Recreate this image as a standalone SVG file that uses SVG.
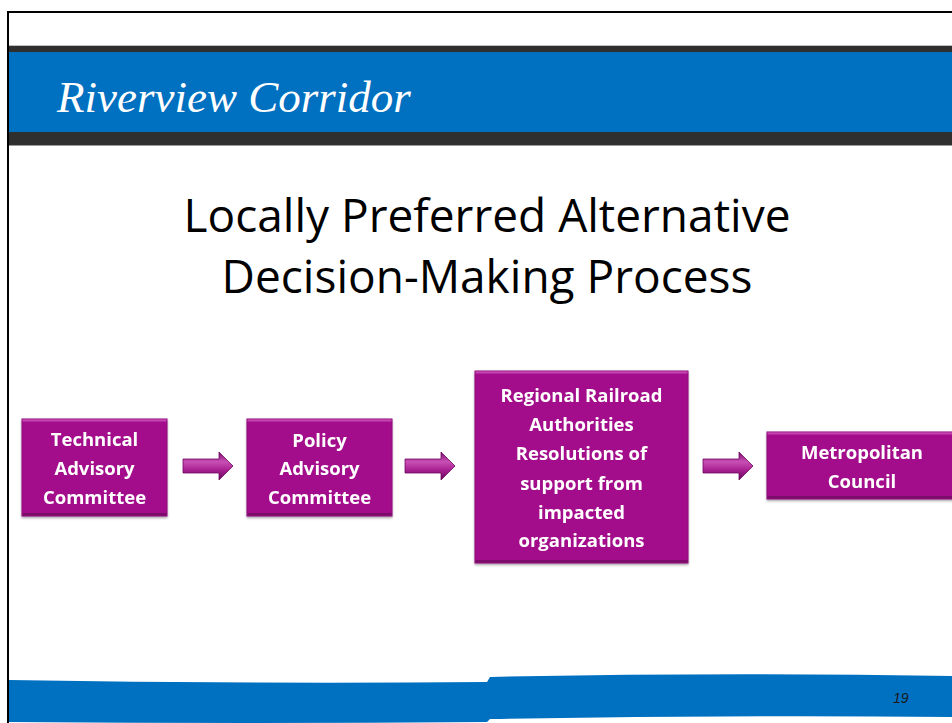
<svg xmlns="http://www.w3.org/2000/svg" width="952" height="723" viewBox="0 0 952 723">
<defs>
<linearGradient id="boxTop" x1="0" y1="0" x2="0" y2="1">
<stop offset="0" stop-color="#D45BC2"/>
<stop offset="1" stop-color="#A3108B"/>
</linearGradient>
<linearGradient id="arrowGrad" x1="0" y1="0" x2="0" y2="1">
<stop offset="0" stop-color="#7E0A6C"/>
<stop offset="0.35" stop-color="#C850B5"/>
<stop offset="0.65" stop-color="#A82090"/>
<stop offset="1" stop-color="#650757"/>
</linearGradient>
<filter id="sh" x="-5%" y="-5%" width="110%" height="115%">
<feDropShadow dx="0" dy="1.5" stdDeviation="1" flood-color="#000" flood-opacity="0.35"/>
</filter>
<path id="arr" d="M0,7 L36,7 L36,0 L50,14 L36,28 L36,21 L0,21 Z"/>
</defs>
<style>
.box{fill:#A3108B;stroke:#8C0C78;stroke-width:1}
.hl{fill:url(#boxTop)}
.dk{fill:#7A0A68}
.lbl{font-family:"Open Sans","Noto Sans","Liberation Sans",sans-serif;font-weight:bold;font-size:18.5px;fill:#ffffff;text-anchor:middle}
.title{font-family:"Open Sans","Noto Sans","Liberation Sans",sans-serif;font-size:46px;fill:#000000;text-anchor:middle}
.arrow{fill:url(#arrowGrad);stroke:#6E0860;stroke-width:0.8}
</style>
<rect x="0" y="0" width="952" height="723" fill="#ffffff"/>
<!-- header -->
<rect x="9" y="45" width="943" height="1" fill="#BFBFBF"/>
<rect x="9" y="46" width="943" height="6" fill="#2F2F2F"/>
<rect x="9" y="52" width="943" height="80" fill="#0070C0"/>
<rect x="9" y="132" width="943" height="13" fill="#2F2F2F"/>
<rect x="9" y="145" width="943" height="1" fill="#9A9A9A"/>
<text x="57" y="112" font-family="'Liberation Serif','DejaVu Serif',serif" font-style="italic" font-size="45" fill="#ffffff">Riverview Corridor</text>
<!-- footer -->
<path d="M9,680 Q250,684 487,682 L490,677 Q720,672 952,676 L952,717 Q720,715 490,719 L487,722 Q250,724 9,722 Z" fill="#0070C0"/>
<text x="893" y="703" font-family="'Liberation Sans',Arial,sans-serif" font-style="italic" font-size="14" fill="#1a1a1a">19</text>
<!-- frame -->
<path d="M8,723 L8,12 L952,12" fill="none" stroke="#000000" stroke-width="2"/>
<!-- title -->
<text class="title" x="487" y="232">Locally Preferred Alternative</text>
<text class="title" x="487" y="293">Decision-Making Process</text>
<!-- connectors -->
<g id="connectors">
<use href="#arr" class="arrow" x="183" y="452"/>
<use href="#arr" class="arrow" x="405" y="452"/>
<use href="#arr" class="arrow" x="703" y="452"/>
</g>
<!-- nodes -->
<g id="node-tac" filter="url(#sh)">
<rect class="box" x="22" y="419" width="145" height="97"/>
<rect class="hl" x="22.5" y="419.5" width="144" height="3"/>
<rect class="dk" x="22.5" y="513" width="144" height="2.5"/>
<text class="lbl" x="94.5" y="446">Technical</text>
<text class="lbl" x="94.5" y="475">Advisory</text>
<text class="lbl" x="94.5" y="504">Committee</text>
</g>
<g id="node-pac" filter="url(#sh)">
<rect class="box" x="247" y="419" width="145" height="97"/>
<rect class="hl" x="247.5" y="419.5" width="144" height="3"/>
<rect class="dk" x="247.5" y="513" width="144" height="2.5"/>
<text class="lbl" x="319.5" y="447">Policy</text>
<text class="lbl" x="319.5" y="475">Advisory</text>
<text class="lbl" x="319.5" y="504">Committee</text>
</g>
<g id="node-rra" filter="url(#sh)">
<rect class="box" x="475" y="371" width="213" height="192"/>
<rect class="hl" x="475.5" y="371.5" width="212" height="3"/>
<rect class="dk" x="475.5" y="560" width="212" height="2.5"/>
<text class="lbl" x="581.5" y="402">Regional Railroad</text>
<text class="lbl" x="581.5" y="431">Authorities</text>
<text class="lbl" x="581.5" y="460">Resolutions of</text>
<text class="lbl" x="581.5" y="490">support from</text>
<text class="lbl" x="581.5" y="519">impacted</text>
<text class="lbl" x="581.5" y="547">organizations</text>
</g>
<g id="node-mc" filter="url(#sh)">
<rect class="box" x="767" y="432" width="192" height="67"/>
<rect class="hl" x="767.5" y="432.5" width="191" height="3"/>
<rect class="dk" x="767.5" y="496" width="191" height="2.5"/>
<text class="lbl" x="862" y="459">Metropolitan</text>
<text class="lbl" x="862" y="488">Council</text>
</g>
</svg>
